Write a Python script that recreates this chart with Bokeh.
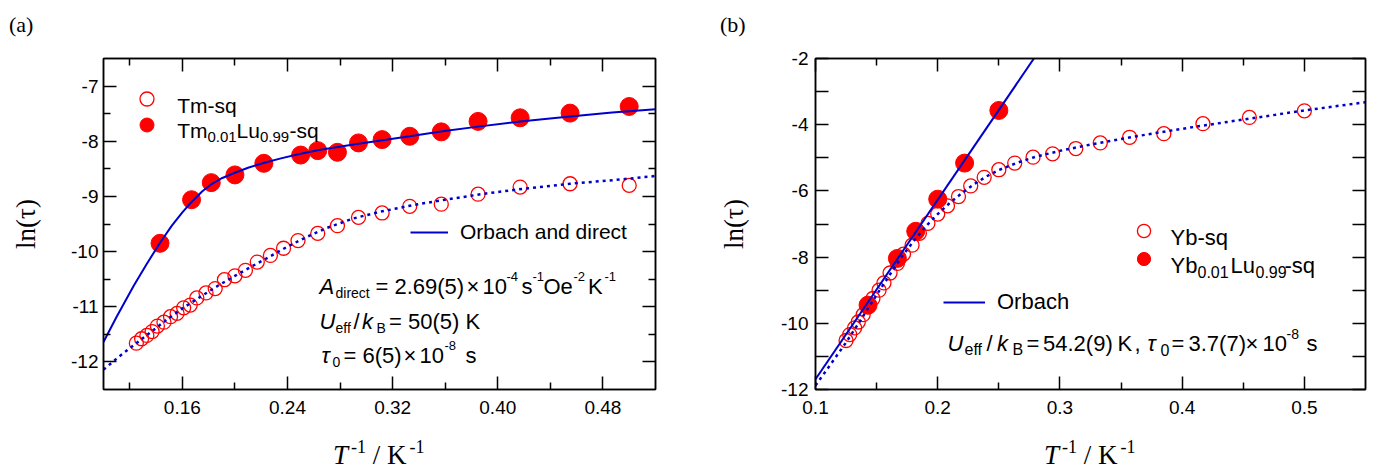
from bokeh.plotting import figure
from bokeh.models import Range1d, FixedTicker, LinearAxis, Label, Legend, LegendItem, Div
from bokeh.layouts import row, column
from bokeh.embed import file_html
from bokeh.resources import INLINE
from bokeh.core.properties import value

# ---------------- panel (a) data ----------------
tm_sq_x = [0.125, 0.129, 0.133, 0.137, 0.141, 0.146, 0.151, 0.156, 0.161, 0.166,
           0.171, 0.178, 0.185, 0.192, 0.200, 0.208, 0.217, 0.227, 0.237, 0.248,
           0.263, 0.278, 0.294, 0.312, 0.333, 0.357, 0.385, 0.417, 0.455, 0.500]
tm_sq_y = [-11.66, -11.58, -11.52, -11.45, -11.35, -11.28, -11.18, -11.12, -11.02, -10.97,
           -10.84, -10.75, -10.67, -10.51, -10.44, -10.34, -10.19, -10.07, -9.94, -9.80,
           -9.67, -9.53, -9.38, -9.30, -9.18, -9.14, -8.96, -8.83, -8.77, -8.80]
tmlu_x = [0.143, 0.167, 0.182, 0.200, 0.222, 0.250, 0.263, 0.278, 0.294, 0.312,
          0.333, 0.357, 0.385, 0.417, 0.455, 0.500]
tmlu_y = [-9.85, -9.06, -8.75, -8.61, -8.40, -8.25, -8.17, -8.20, -8.03, -7.97,
          -7.91, -7.83, -7.64, -7.575, -7.49, -7.37]
# Orbach + direct fit curve (solid)
fit_a_x = [0.100, 0.110, 0.123, 0.133, 0.143, 0.152, 0.160, 0.167, 0.175, 0.182,
           0.190, 0.199, 0.210, 0.221, 0.235, 0.249, 0.263, 0.277, 0.294, 0.311,
           0.333, 0.358, 0.385, 0.417, 0.455, 0.487, 0.520]
fit_a_y = [-11.64, -11.18, -10.62, -10.22, -9.84, -9.53, -9.29, -9.10, -8.91, -8.78,
           -8.67, -8.58, -8.48, -8.40, -8.31, -8.23, -8.165, -8.11, -8.045, -7.985,
           -7.91, -7.82, -7.735, -7.64, -7.55, -7.48, -7.42]
# dotted guide through Tm-sq
guide_a_x = [0.100, 0.112, 0.125, 0.137, 0.150, 0.162, 0.175, 0.187, 0.200, 0.212,
             0.225, 0.240, 0.255, 0.270, 0.290, 0.310, 0.335, 0.360, 0.390, 0.420,
             0.455, 0.490, 0.520]
guide_a_y = [-12.14, -11.90, -11.66, -11.44, -11.20, -11.00, -10.80, -10.62, -10.44, -10.28,
             -10.11, -9.91, -9.73, -9.57, -9.40, -9.28, -9.16, -9.06, -8.95, -8.86,
             -8.77, -8.70, -8.63]
xa_ticks = [0.16, 0.24, 0.32, 0.40, 0.48]
xa_labels = ["0.16", "0.24", "0.32", "0.40", "0.48"]
xa_minor = [0.12, 0.20, 0.28, 0.36, 0.44]
ya_ticks = [-12, -11, -10, -9, -8, -7]
ya_labels = ["-12", "-11", "-10", "-9", "-8", "-7"]
ya_minor = [-11.5, -10.5, -9.5, -8.5, -7.5]

# ---------------- panel (b) data ----------------
yb_sq_x = [0.125, 0.128, 0.132, 0.135, 0.139, 0.143, 0.147, 0.152, 0.156, 0.161,
           0.167, 0.172, 0.179, 0.185, 0.192, 0.200, 0.208, 0.217, 0.227, 0.238,
           0.250, 0.263, 0.278, 0.294, 0.313, 0.333, 0.357, 0.385, 0.417, 0.455, 0.500]
yb_sq_y = [-10.52, -10.34, -10.14, -9.96, -9.74, -9.50, -9.25, -9.00, -8.78, -8.48,
           -8.19, -7.91, -7.64, -7.28, -6.98, -6.70, -6.45, -6.17, -5.85, -5.59,
           -5.36, -5.16, -4.98, -4.88, -4.72, -4.55, -4.38, -4.27, -3.97, -3.78, -3.58]
yblu_x = [0.143, 0.167, 0.182, 0.200, 0.222, 0.250]
yblu_y = [-9.45, -8.04, -7.22, -6.25, -5.16, -3.57]
# Orbach fit line (solid)
orbach_b_x = [0.100, 0.2787]
orbach_b_y = [-11.69, -2.00]
# dotted guide through Yb-sq
guide_b_x = [0.100, 0.112, 0.125, 0.137, 0.150, 0.160, 0.170, 0.180, 0.190, 0.200,
             0.210, 0.220, 0.230, 0.240, 0.250, 0.265, 0.280, 0.300, 0.325, 0.350,
             0.380, 0.420, 0.460, 0.500, 0.550]
guide_b_y = [-11.88, -11.26, -10.58, -9.90, -9.14, -8.58, -8.02, -7.53, -7.08, -6.70,
             -6.36, -6.06, -5.79, -5.56, -5.37, -5.15, -4.97, -4.79, -4.60, -4.43,
             -4.24, -4.01, -3.79, -3.57, -3.32]
xb_ticks = [0.1, 0.2, 0.3, 0.4, 0.5]
xb_labels = ["0.1", "0.2", "0.3", "0.4", "0.5"]
xb_minor = [0.15, 0.25, 0.35, 0.45]
yb_ticks = [-12, -10, -8, -6, -4, -2]
yb_labels = ["-12", "-10", "-8", "-6", "-4", "-2"]
yb_minor = [-11, -9, -7, -5, -3]

y_title = "ln(τ)"

# ---------------- styling ----------------
SANS = "Liberation Sans"
SERIF = "Liberation Serif"
RED = "#FF0000"
BLUE = "#0000CC"
TOPROW, BOTROW = 40, 30          # html rows above / below the plots
H = 470 - TOPROW - BOTROW        # figure height
TOP, BOTTOM = 18, 51             # frame from page y 58 to 389


def make_fig(width, left, right, xr, yr):
    p = figure(width=width, height=H, output_backend="svg", toolbar_location=None,
               x_range=Range1d(*xr), y_range=Range1d(*yr),
               x_axis_location=None, y_axis_location=None,
               min_border_left=left, min_border_right=right,
               min_border_top=TOP, min_border_bottom=BOTTOM)
    p.xgrid.visible = False
    p.ygrid.visible = False
    p.outline_line_color = "black"
    p.outline_line_width = 1.5
    p.background_fill_color = "white"
    p.border_fill_color = "white"
    return p


def style_axis(ax, maj, minr, size):
    ax.axis_line_color = "black"
    ax.axis_line_width = 1.5
    ax.major_tick_line_color = "black"
    ax.major_tick_line_width = 1.5
    ax.minor_tick_line_color = "black"
    ax.minor_tick_line_width = 1.5
    ax.major_tick_in = maj
    ax.major_tick_out = 0
    ax.minor_tick_in = minr
    ax.minor_tick_out = 0
    ax.major_label_text_font = SANS
    ax.major_label_text_font_size = size
    ax.major_label_text_color = "black"


def add_axes(p, xt, xl, xm, yt, yl, ym, xstand, ystand, ymin_len, size, ylab_stand):
    for loc in ("below", "above"):
        ax = LinearAxis(ticker=FixedTicker(ticks=xt, minor_ticks=xm))
        style_axis(ax, 13, 7, size)
        if loc == "below":
            ax.major_label_overrides = {t: s for t, s in zip(xt, xl)}
            ax.major_label_standoff = xstand
        else:
            ax.major_label_text_color = None
            ax.major_label_text_font_size = "0px"
            ax.major_label_standoff = 0
        p.add_layout(ax, loc)
    for loc in ("left", "right"):
        ax = LinearAxis(ticker=FixedTicker(ticks=yt, minor_ticks=ym))
        style_axis(ax, 13, ymin_len, size)
        if loc == "left":
            ax.major_label_overrides = {t: s for t, s in zip(yt, yl)}
            ax.major_label_standoff = ystand
            ax.axis_label = y_title
            ax.axis_label_text_font = SERIF
            ax.axis_label_text_font_size = "27px"
            ax.axis_label_text_font_style = "normal"
            ax.axis_label_text_color = "black"
            ax.axis_label_standoff = ylab_stand
        else:
            ax.major_label_text_color = None
            ax.major_label_text_font_size = "0px"
            ax.major_label_standoff = 0
        p.add_layout(ax, loc)


def txt(p, fig_left, x, y, text, size, italic=False, font=SANS):
    lab = Label(x=x - fig_left, y=y - TOPROW, x_units="canvas", y_units="canvas",
                text=text, text_font=font, text_font_size=f"{size}px",
                text_font_style="italic" if italic else "normal", text_color="black",
                text_align="left", text_baseline="alphabetic")
    p.add_layout(lab)


def legend_item(p, renderer, label, loc, gw, gh, standoff=0, size="21px"):
    leg = Legend(items=[LegendItem(label=value(label), renderers=[renderer])],
                 location=loc, orientation="vertical", glyph_width=gw, glyph_height=gh,
                 padding=0, spacing=0, margin=0, label_standoff=standoff,
                 label_width=0, label_height=gh,
                 label_text_font=SANS, label_text_font_size=size, label_text_color="black",
                 border_line_color=None, background_fill_alpha=0)
    p.add_layout(leg)


def html_row(width, height, left, top, size, inner):
    html = (f'<div style="position:relative;width:{width}px;height:{height}px;">'
            f'<span style="position:absolute;left:{left}px;top:{top}px;'
            f"font-family:'Liberation Serif';font-size:{size}px;line-height:{size}px;"
            f'color:black;white-space:nowrap;">{inner}</span></div>')
    return Div(text=html, width=width, height=height, margin=0)


SUP = '<span style="font-size:18px;position:relative;top:-11px;margin-left:3px;">-1</span>'
x_title_html = f'<i>T</i>{SUP} / K{SUP}'

# ================= panel (a) =================
FA = 0  # page x of figure (a)
pa = make_fig(698, 103, 43, (0.10, 0.52), (-12.5, -6.5))
add_axes(pa, xa_ticks, xa_labels, xa_minor, ya_ticks, ya_labels, ya_minor, 11, 5, 7, "19px", 27)

ra_open = pa.scatter(tm_sq_x, tm_sq_y, marker="circle", size=14, fill_color=None,
                     line_color=RED, line_width=1.3)
ra_fill = pa.scatter(tmlu_x, tmlu_y, marker="circle", size=18, fill_color=RED,
                     line_color=RED)
ra_fit = pa.line(fit_a_x, fit_a_y, line_color=BLUE, line_width=2)
pa.line(guide_a_x, guide_a_y, line_color=BLUE, line_width=2.5, line_dash="3 4")

legend_item(pa, ra_open, "", (25.5, 273.2), 35, 35)
legend_item(pa, ra_fill, "", (25.5, 247.5), 35, 35)
legend_item(pa, ra_fit, "Orbach and direct", (307, 144.3), 38, 26, 12, "21px")

# legend texts
for t, x, y, s in [("Tm-sq", 176.7, 105, 21), ("Tm", 176.7, 130, 21), ("0.01", 207, 136, 15),
                   ("Lu", 236, 130, 21), ("0.99", 259.5, 136, 15), ("-sq", 289, 130, 21)]:
    txt(pa, FA, x, y, t, s)

# fit parameters
for t, x, y, s, it in [
        ("A", 319, 286, 22, True), ("direct", 335, 292, 14, False), ("= 2.69(5)", 375, 286, 22, False),
        ("×", 466, 286, 22, False), ("10", 482, 286, 22, False), ("-4", 506, 276, 13, False),
        ("s", 521, 286, 22, False), ("-1", 532, 276, 13, False), ("Oe", 543, 286, 22, False),
        ("-2", 573, 276, 13, False), ("K", 587.5, 286, 22, False), ("-1", 604, 276, 13, False),
        ("U", 319, 321, 22, True), ("eff", 335, 327, 14, False), ("/", 353, 321, 22, False),
        ("k", 361.5, 321, 22, True), ("B", 376, 327, 14, False), ("= 50(5) K", 388.5, 321, 22, False),
        ("τ", 321, 355, 22, True), ("0", 332, 361, 14, False), ("= 6(5)", 343, 355, 22, False),
        ("×", 403, 355, 22, False), ("10", 419, 355, 22, False), ("-8", 444, 345, 13, False),
        ("s", 465, 355, 22, False)]:
    txt(pa, FA, x, y, t, s, italic=it)

# ================= panel (b) =================
FB = 698
pb = make_fig(690, 117, 23, (0.1, 0.55), (-12, -2))
add_axes(pb, xb_ticks, xb_labels, xb_minor, yb_ticks, yb_labels, yb_minor, 11, 7, 13, "19px", 29)

rb_open = pb.scatter(yb_sq_x, yb_sq_y, marker="circle", size=14, fill_color=None,
                     line_color=RED, line_width=1.3)
rb_fill = pb.scatter(yblu_x, yblu_y, marker="circle", size=18, fill_color=RED,
                     line_color=RED)
rb_fit = pb.line(orbach_b_x, orbach_b_y, line_color=BLUE, line_width=2)
pb.line(guide_b_x, guide_b_y, line_color=BLUE, line_width=2.5, line_dash="3 4")

legend_item(pb, rb_open, "", (311.5, 142.5), 33, 33)
legend_item(pb, rb_fill, "", (311.5, 114.5), 33, 33)
legend_item(pb, rb_fit, "Orbach", (128, 74.3), 42, 26, 12, "22px")

for t, x, y, s in [("Yb-sq", 1170, 237, 22), ("Yb", 1170, 265, 22), ("0.01", 1197, 271, 16),
                   ("Lu", 1230, 265, 22), ("0.99", 1255, 271, 16), ("-sq", 1284, 265, 22)]:
    txt(pb, FB, x, y, t, s)

for t, x, y, s, it in [
        ("U", 947, 343, 22, True), ("eff", 964, 349, 16, False), ("/", 986, 343, 22, False),
        ("k", 996.5, 343, 22, True), ("B", 1012, 349, 16, False), ("=", 1026, 343, 22, False),
        ("54.2(9)", 1042.5, 343, 22, False), ("K", 1117, 343, 22, False),
        (",", 1134, 343, 22, False), ("τ", 1147, 343, 22, True), ("0", 1160, 349, 16, False),
        ("=", 1171, 343, 22, False), ("3.7(7)", 1188, 343, 22, False),
        ("×", 1245, 343, 22, False), ("10", 1262, 343, 22, False),
        ("-8", 1286, 333, 14, False), ("s", 1306, 343, 22, False)]:
    txt(pb, FB, x, y, t, s, italic=it)

# html rows: panel tags above, axis titles below
top_a = html_row(698, TOPROW, 9, 14, 22, "(a)")
top_b = html_row(690, TOPROW, 22, 14, 22, "(b)")
bot_a = html_row(698, BOTROW, 333, 2, 27, x_title_html)
bot_b = html_row(690, BOTROW, 346, 2, 27, x_title_html)

layout = column(row(top_a, top_b), row(pa, pb), row(bot_a, bot_b))
open("out.html", "w").write(file_html(layout, INLINE))
